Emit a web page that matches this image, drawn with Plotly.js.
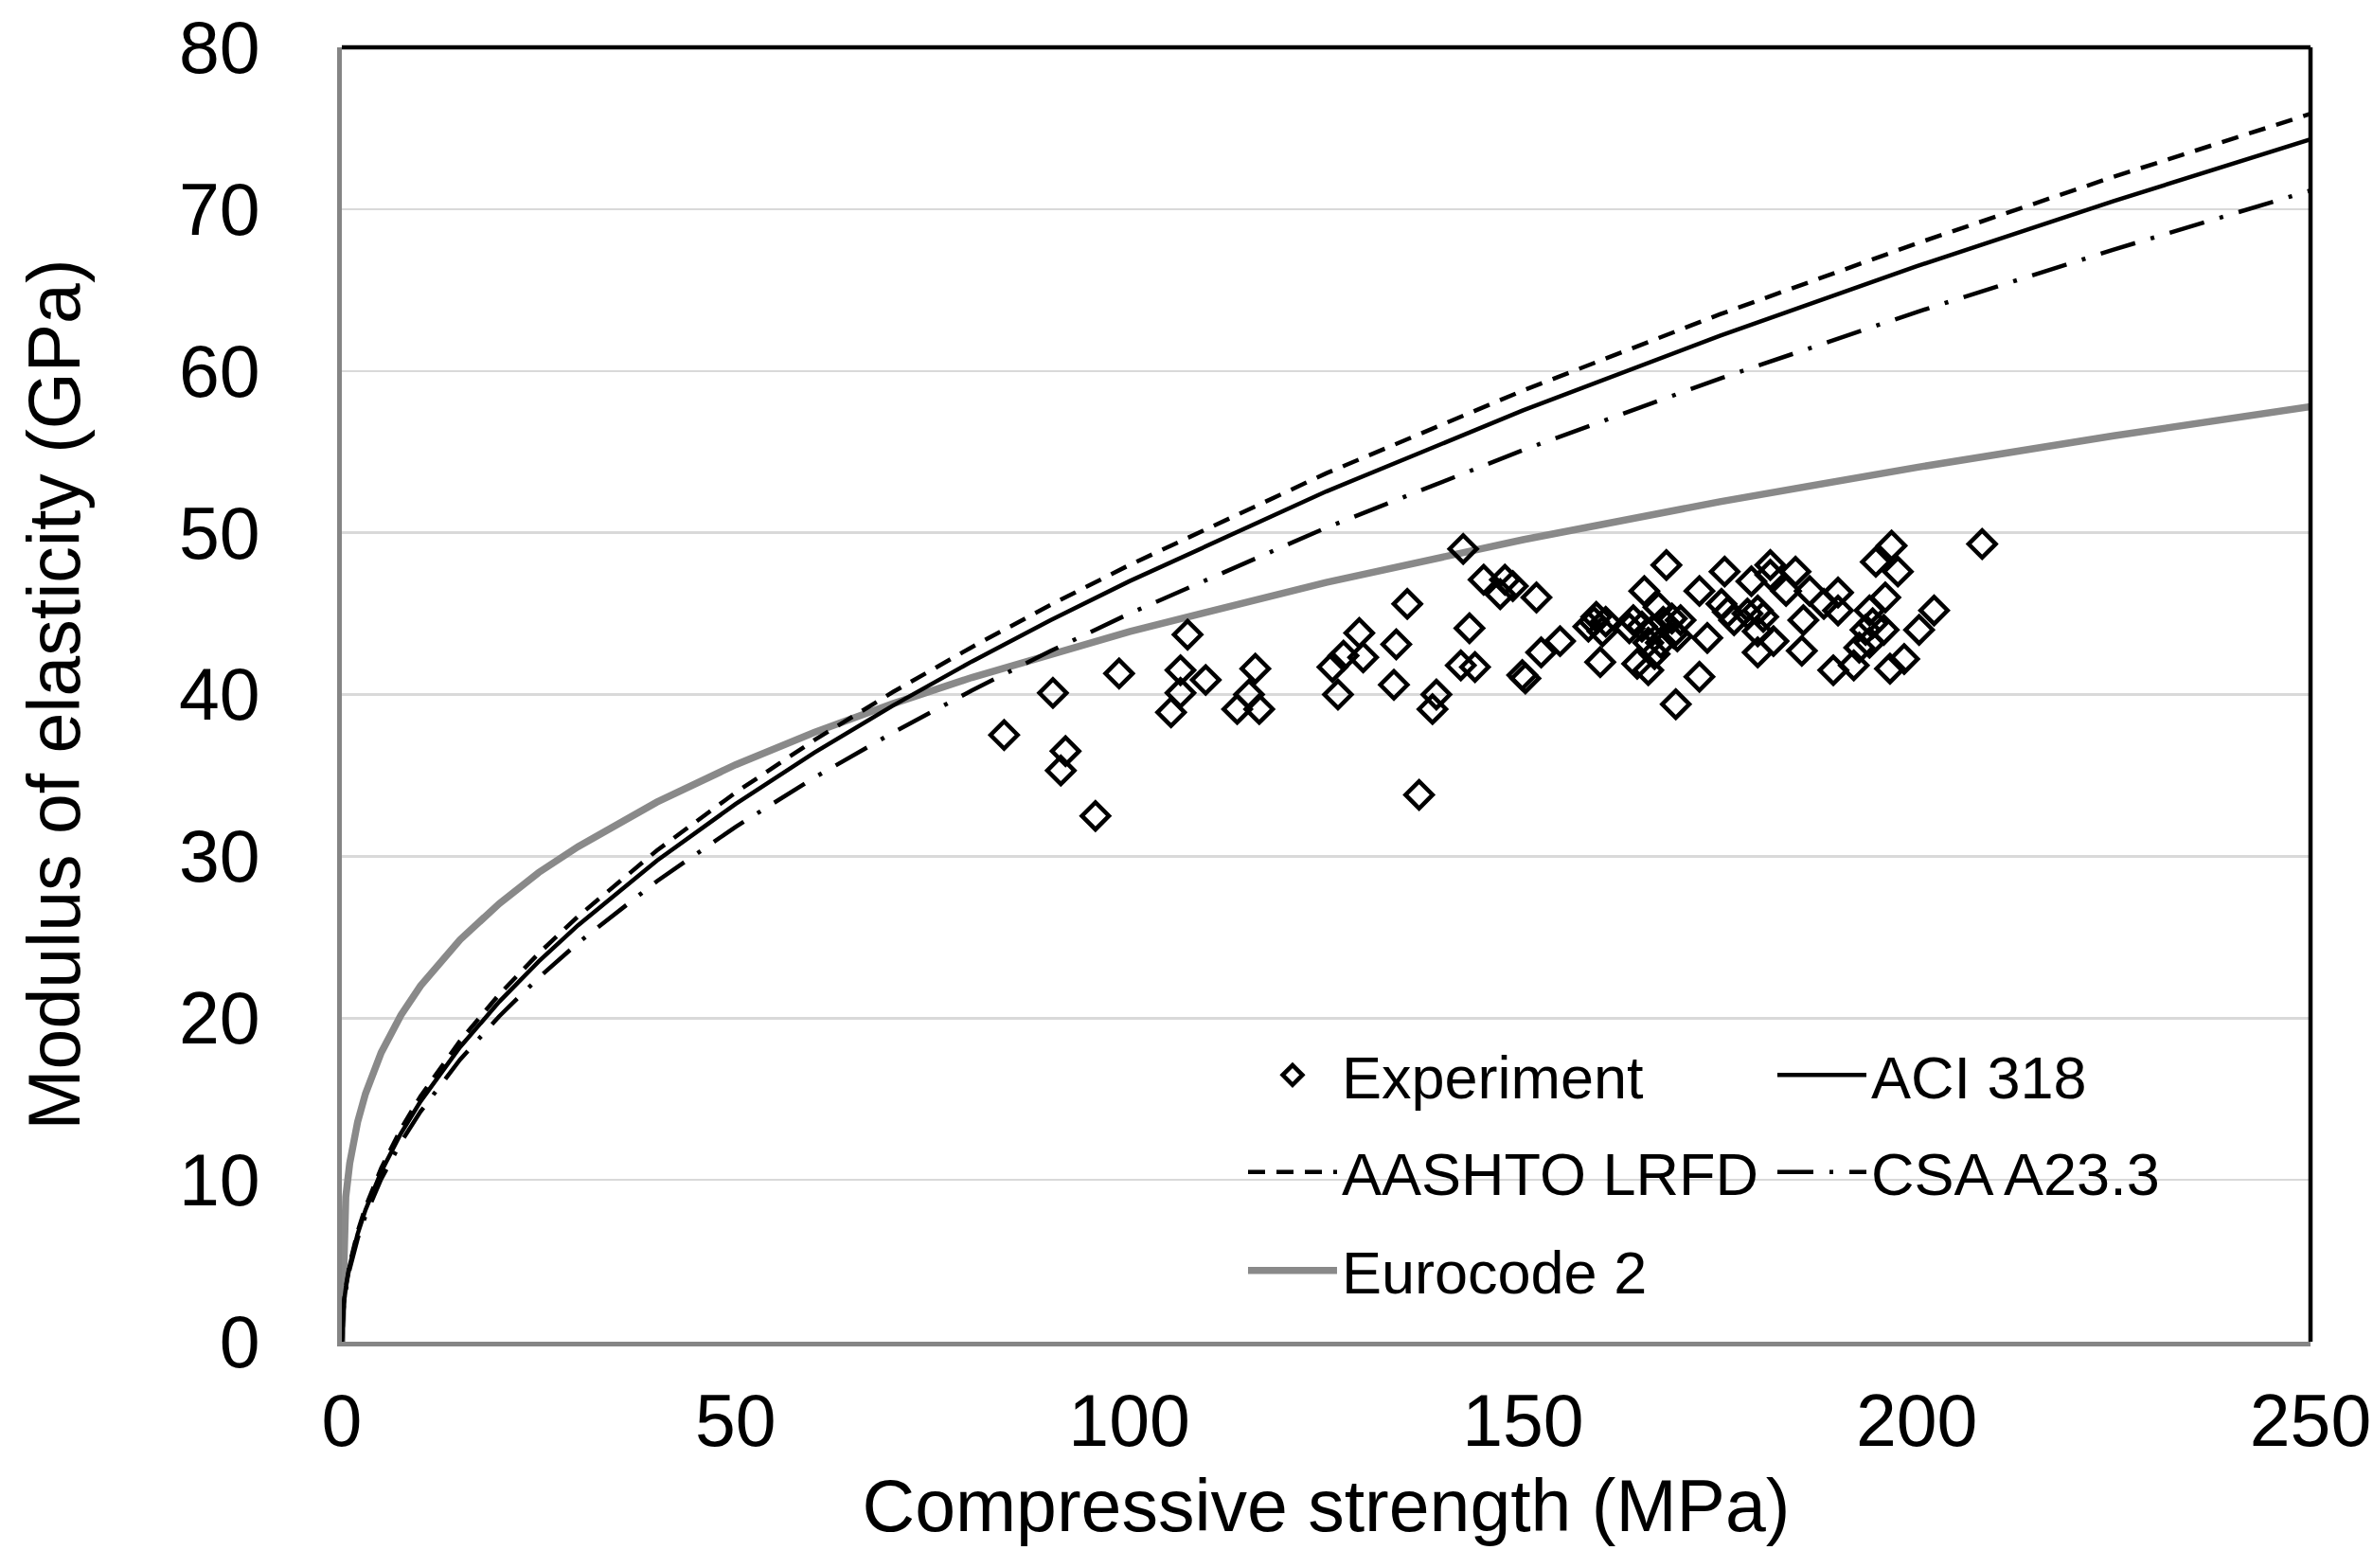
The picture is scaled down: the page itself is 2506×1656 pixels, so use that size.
<!DOCTYPE html>
<html>
<head>
<meta charset="utf-8">
<script src="https://cdn.plot.ly/plotly-3.0.1.min.js"></script>
<style>html,body{margin:0;padding:0;background:#fff;}#chart{width:2506px;height:1656px;}</style>
</head>
<body>
<div id="chart"></div>
<script>
// Experimental points: compressive strength (MPa) and modulus of elasticity (GPa)
const expStrength = [84.1,90.3,91.9,91.3,95.7,98.7,107.4,106.5,109.7,106.5,105.3,116.0,115.2,113.7,116.5,
  125.8,126.5,129.2,127.2,129.7,135.3,133.9,133.6,139.0,138.5,136.8,142.4,143.2,142.1,143.9,145.0,147.1,147.7,148.7,151.7,149.9,150.3,152.3,154.7,
  159.8,159.3,158.3,160.1,159.0,160.5,168.2,165.4,167.2,163.5,165.1,165.9,167.5,168.9,169.1,164.5,165.9,169.4,164.0,166.5,167.8,166.7,
  208.3,196.8,194.8,197.6,196.0,194.0,194.4,195.8,194.0,192.7,192.0,189.4,196.6,198.4,200.3,202.2,190.0,190.0,188.2,186.4,185.6,185.4,184.6,183.4,
  181.4,181.4,179.0,175.6,172.4,175.2,176.0,176.8,179.8,179.8,181.8,179.8,173.4,172.4,170.0,169.6,193.5,178.5,180.5];
const expModulus = [37.5,40.1,36.5,35.3,32.5,41.3,43.7,41.5,40.9,40.1,38.9,41.6,40.0,39.1,39.1,
  41.7,40.0,43.8,42.4,42.3,45.6,43.1,40.6,40.0,39.1,33.8,49.0,44.1,41.8,41.7,47.1,46.2,47.1,46.7,46.0,41.2,41.0,42.6,43.3,
  42.0,44.8,44.2,43.9,44.5,44.5,48.0,46.4,45.4,44.1,44.2,43.2,43.2,44.7,43.8,41.9,41.5,39.4,44.6,44.0,44.5,42.5,
  49.3,49.2,48.2,47.6,46.0,45.2,44.4,44.0,43.2,42.9,41.8,41.5,41.6,42.2,44.0,45.2,46.3,45.2,45.6,46.4,44.6,42.7,47.6,46.4,
  48.0,47.4,47.0,47.6,46.4,45.6,45.1,44.6,45.2,43.9,43.3,42.6,43.5,41.1,44.6,43.6,44.0,45.0,44.8];

// Code-prediction curves
const curveStrength = [0,0.25,0.5,1,2,3,5,7.5,10,15,20,25,30,40,50,60,70,80,90,100,125,150,175,200,225,250];
const aciModulus    = [0,2.35,3.32,4.70,6.65,8.14,10.51,12.87,14.86,18.20,21.02,23.50,25.74,29.73,33.23,36.41,39.32,42.04,44.59,47.00,52.55,57.56,62.17,66.47,70.50,74.31];
const aashtoModulus = [0,2.40,3.39,4.80,6.79,8.31,10.73,13.15,15.18,18.59,21.47,24.00,26.29,30.36,33.94,37.18,40.16,42.93,45.54,48.00,53.67,58.79,63.50,67.88,72.00,75.89];
const csaModulus    = [0,2.25,3.18,4.50,6.36,7.79,10.06,12.32,14.23,17.43,20.12,22.50,24.65,28.46,31.82,34.86,37.65,40.25,42.69,45.00,50.31,55.11,59.53,63.64,67.50,71.15];
const ec2Modulus    = [0,7.27,8.95,11.03,13.57,15.33,17.87,20.18,22.00,24.84,27.08,29.00,30.60,33.35,35.66,37.66,39.44,41.05,42.52,43.89,46.93,49.57,51.92,54.04,55.99,57.79];

const xTickVals = [0,50,100,150,200,250];
const yTickVals = [0,10,20,30,40,50,60,70,80];

const FONT = 'Liberation Sans, Arial, sans-serif';

const traces = [
  {x: curveStrength, y: ec2Modulus, name: 'Eurocode 2', type: 'scatter', mode: 'lines',
   line: {color: '#898989', width: 7.5}, legend: 'legend3'},
  {x: curveStrength, y: csaModulus, name: 'CSA A23.3', type: 'scatter', mode: 'lines',
   line: {color: '#000000', width: 4.5, dash: '38px,17px,4px,17px'}, legend: 'legend2', legendrank: 2},
  {x: curveStrength, y: aashtoModulus, name: 'AASHTO LRFD', type: 'scatter', mode: 'lines',
   line: {color: '#000000', width: 4.5, dash: '18px,12px'}, legend: 'legend2', legendrank: 1},
  {x: curveStrength, y: aciModulus, name: 'ACI 318', type: 'scatter', mode: 'lines',
   line: {color: '#000000', width: 4.5}, legend: 'legend', legendrank: 2},
  {x: expStrength, y: expModulus, name: 'Experiment', type: 'scatter', mode: 'markers',
   marker: {symbol: 'diamond-open', size: 22, color: '#000000', line: {width: 4.5, color: '#000000'}},
   legend: 'legend', legendrank: 1}
];

const legendBase = {
  orientation: 'h', x: 0.4579, xanchor: 'left', yanchor: 'middle',
  font: {family: FONT, size: 63, color: '#000'}, bgcolor: 'rgba(0,0,0,0)',
  itemwidth: 94, entrywidth: 450, entrywidthmode: 'pixels', itemclick: false, itemdoubleclick: false,
  valign: 'middle', tracegroupgap: 0
};

const layout = {
  width: 2506, height: 1656,
  margin: {l: 361, r: 66, t: 50, b: 239},
  paper_bgcolor: '#ffffff', plot_bgcolor: '#ffffff',
  font: {family: FONT, color: '#000'},
  showlegend: true,
  legend: Object.assign({}, legendBase, {y: 0.206}),
  legend2: Object.assign({}, legendBase, {y: 0.131}),
  legend3: Object.assign({}, legendBase, {y: 0.055}),
  xaxis: {
    range: [0, 250], tickvals: xTickVals, ticktext: xTickVals.map(String),
    showgrid: false, zeroline: false, showline: true, linecolor: '#858585', linewidth: 5,
    ticks: '', ticklabelstandoff: 13,
    tickfont: {family: FONT, size: 77, color: '#000'},
    title: {text: 'Compressive strength (MPa)', font: {family: FONT, size: 77, color: '#000'}, standoff: 22},
    fixedrange: true
  },
  yaxis: {
    range: [0, 80], tickvals: yTickVals, ticktext: yTickVals.map(String),
    showgrid: true, gridcolor: '#d9d9d9', gridwidth: 2.5, zeroline: false,
    showline: true, linecolor: '#858585', linewidth: 5,
    ticks: '', ticklabelstandoff: 66,
    tickfont: {family: FONT, size: 77, color: '#000'},
    title: {text: 'Modulus of elasticity (GPa)', font: {family: FONT, size: 77, color: '#000'}, standoff: 80},
    fixedrange: true
  },
  shapes: [
    {type: 'line', xref: 'paper', yref: 'paper', x0: 0, x1: 1, y0: 1, y1: 1, line: {color: '#000', width: 4.5}, layer: 'above'},
    {type: 'line', xref: 'paper', yref: 'paper', x0: 1, x1: 1, y0: 0, y1: 1, line: {color: '#000', width: 4.5}, layer: 'above'}
  ]
};

Plotly.newPlot('chart', traces, layout, {staticPlot: true, displayModeBar: false});
</script>
</body>
</html>
